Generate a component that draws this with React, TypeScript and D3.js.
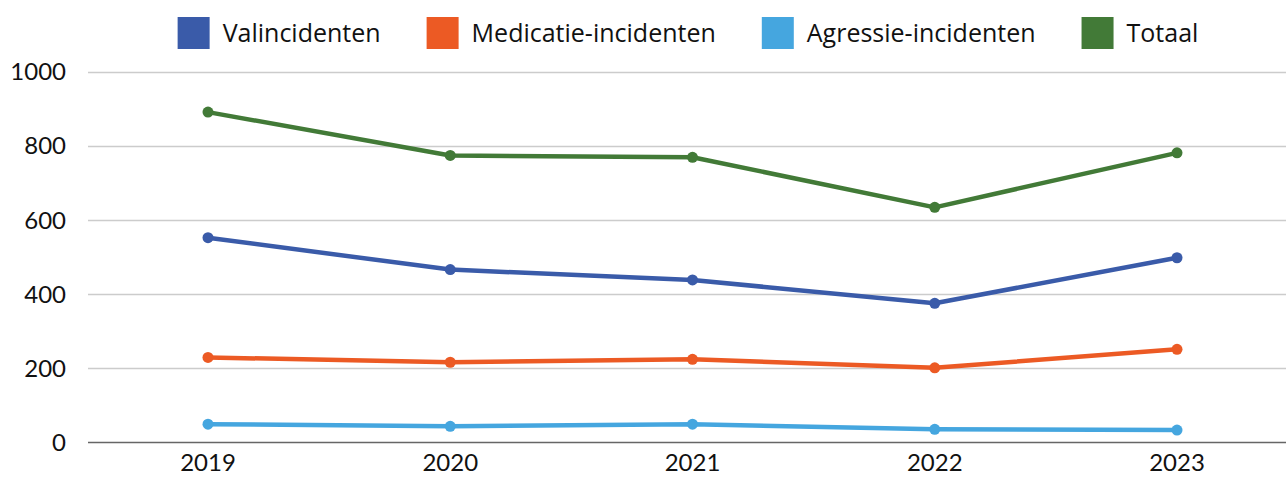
import React, { useEffect, useRef } from "react";
import * as d3 from "d3";

const years = ["2019", "2020", "2021", "2022", "2023"];
const valincidenten = [552, 466, 438, 375, 498];
const medicatie = [229, 216, 224, 201, 251];
const agressie = [49, 43, 49, 35, 33];
const totaal = [891, 774, 769, 634, 781];
const yTicks = [0, 200, 400, 600, 800, 1000];

const seriesNames = ["Valincidenten", "Medicatie-incidenten", "Agressie-incidenten", "Totaal"];
const seriesColors = ["#3A5BA9", "#EC5A24", "#45A6DF", "#427A37"];
const seriesValues = [valincidenten, medicatie, agressie, totaal];

const W = 1286;
const H = 478;
const FONT = "Lato, 'Noto Sans', sans-serif";
const LEGEND_FONT = "'Open Sans', Lato, sans-serif";

export default function App() {
  const ref = useRef<SVGSVGElement>(null);

  useEffect(() => {
    const svg = d3.select(ref.current);
    svg.selectAll("*").remove();

    const x = d3.scalePoint<string>().domain(years).range([208, 1177]);
    const y = d3.scaleLinear().domain([0, 1000]).range([442.3, 71.7]);
    const gridLeft = 88;
    const gridRight = W;

    svg
      .append("g")
      .selectAll("line")
      .data(yTicks)
      .join("line")
      .attr("x1", gridLeft)
      .attr("x2", gridRight)
      .attr("y1", (d) => Math.round(y(d)) + 0.5)
      .attr("y2", (d) => Math.round(y(d)) + 0.5)
      .attr("stroke", (d) => (d === 0 ? "#666666" : "#cccccc"))
      .attr("stroke-width", 1.3);

    svg
      .append("g")
      .selectAll("text")
      .data(yTicks)
      .join("text")
      .attr("x", 66)
      .attr("y", (d) => y(d))
      .attr("dy", "0.36em")
      .attr("text-anchor", "end")
      .attr("font-family", FONT)
      .attr("font-size", 24)
      .attr("fill", "#111")
      .text((d) => String(d));

    svg
      .append("g")
      .selectAll("text")
      .data(years)
      .join("text")
      .attr("x", (d) => x(d)!)
      .attr("y", 471)
      .attr("text-anchor", "middle")
      .attr("font-family", FONT)
      .attr("font-size", 24)
      .attr("fill", "#111")
      .text((d) => d);

    const line = d3
      .line<number>()
      .x((_, i) => x(years[i])!)
      .y((d) => y(d));

    seriesValues.forEach((vals, si) => {
      const g = svg.append("g");
      g.append("path")
        .attr("d", line(vals)!)
        .attr("fill", "none")
        .attr("stroke", seriesColors[si])
        .attr("stroke-width", 4.5)
        .attr("stroke-linejoin", "round");
      g.selectAll("circle")
        .data(vals)
        .join("circle")
        .attr("cx", (_, i) => x(years[i])!)
        .attr("cy", (d) => y(d))
        .attr("r", 5.5)
        .attr("fill", seriesColors[si]);
    });

    const leg = svg.append("g");
    const items = leg.selectAll("g").data(seriesNames).join("g");
    items
      .append("rect")
      .attr("width", 32)
      .attr("height", 32)
      .attr("y", 17)
      .attr("fill", (_, i) => seriesColors[i]);
    const texts = items
      .append("text")
      .attr("x", 45)
      .attr("y", 33)
      .attr("dy", "0.36em")
      .attr("font-family", LEGEND_FONT)
      .attr("font-size", 25)
      .attr("fill", "#111")
      .text((d) => d);
    const widths: number[] = [];
    texts.each(function () {
      widths.push((this as SVGTextElement).getComputedTextLength());
    });
    const gap = 46;
    const itemW = widths.map((w) => 45 + w);
    const total = d3.sum(itemW) + gap * (itemW.length - 1);
    let cx = 688 - total / 2;
    items.attr("transform", (_, i) => {
      const t = `translate(${cx},0)`;
      cx += itemW[i] + gap;
      return t;
    });
  }, []);

  return (
    <svg
      ref={ref}
      width={W}
      height={H}
      style={{ position: "absolute", left: 0, top: 0, background: "#fff" }}
    />
  );
}
